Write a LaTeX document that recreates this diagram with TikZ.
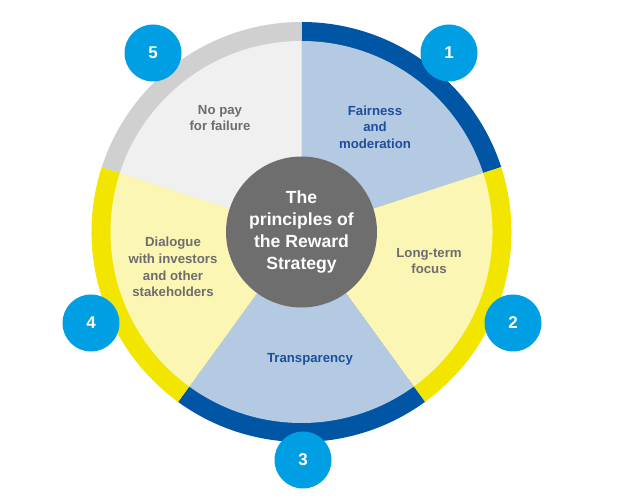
\documentclass[tikz,border=0pt]{standalone}
\usepackage{fontspec}
\setmainfont{Liberation Sans}
\definecolor{darkblue}{HTML}{0055A5}
\definecolor{lightblue}{HTML}{B3CAE2}
\definecolor{ringyellow}{HTML}{F2E500}
\definecolor{lightyellow}{HTML}{FCF6B5}
\definecolor{ringgray}{HTML}{D0D0D0}
\definecolor{lightgray}{HTML}{F0F0F0}
\definecolor{numcyan}{HTML}{009FE3}
\definecolor{centergray}{HTML}{6E6E6E}
\definecolor{textblue}{HTML}{1D4F9B}
\definecolor{textgray}{HTML}{6D6D6D}
\tikzset{
  numcircle/.style={circle, fill=numcyan, minimum size=57pt, inner sep=0pt,
    text=white, font=\fontsize{17}{20}\selectfont\bfseries},
  bluelabel/.style={align=center, text=textblue, font=\fontsize{13.2}{16.7}\selectfont\bfseries},
  graylabel/.style={align=center, text=textgray, font=\fontsize{13.2}{16.7}\selectfont\bfseries},
  centerbox/.style={circle, fill=centergray, minimum size=151pt, inner sep=0pt,
    align=center, text=white, font=\fontsize{17.6}{21.7}\selectfont\bfseries}
}
\newcommand{\sector}[5]{% color, start, end, radius, center
  \fill[#1] (#5) -- ++(#2:#4) arc[start angle=#2, end angle=#3, radius=#4] -- cycle;}
\begin{document}
\begin{tikzpicture}[x=1pt,y=1pt]
\useasboundingbox (0,0) rectangle (618,500);
\coordinate (C) at (301.5,268);
% outer ring segments
\sector{darkblue}{18}{90}{210}{C}
\sector{ringyellow}{-54}{18}{210}{C}
\sector{darkblue}{-126}{-54}{210}{C}
\sector{ringyellow}{162}{234}{210}{C}
\sector{ringgray}{90}{162}{210}{C}
% inner wedges
\sector{lightblue}{18}{90}{191}{C}
\sector{lightyellow}{-54}{18}{191}{C}
\sector{lightblue}{-126}{-54}{191}{C}
\sector{lightyellow}{162}{234}{191}{C}
\sector{lightgray}{90}{162}{191}{C}
% centre
\node[centerbox] (center) at (C) {The\\principles of\\the Reward\\Strategy};
% labels
\node[bluelabel] (fair) at (375,373) {Fairness\\and\\moderation};
\node[graylabel] (long) at (429,239) {Long-term\\focus};
\node[bluelabel] (trans) at (310,141) {Transparency};
\node[graylabel] (dial) at (173,233) {Dialogue\\with investors\\and other\\stakeholders};
\node[graylabel] (nopay) at (220,382) {No pay\\for failure};
% number circles
\node[numcircle] (n1) at (449,447) {1};
\node[numcircle] (n2) at (513,177) {2};
\node[numcircle] (n3) at (303,40) {3};
\node[numcircle] (n4) at (91,177) {4};
\node[numcircle] (n5) at (153,447) {5};
\end{tikzpicture}
\end{document}
